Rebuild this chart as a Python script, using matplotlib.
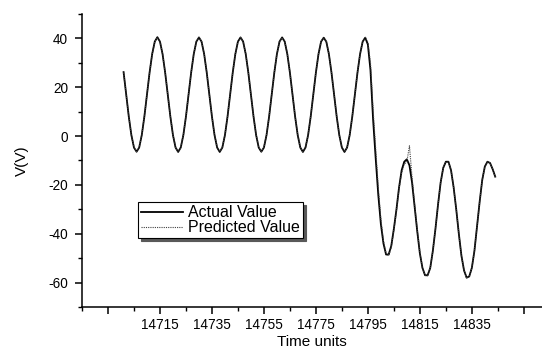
import numpy as np
import matplotlib
matplotlib.use('Agg')
import matplotlib.pyplot as plt
from matplotlib.ticker import FixedLocator

plt.rcParams['font.family'] = ['Liberation Sans', 'DejaVu Sans']
plt.rcParams['axes.unicode_minus'] = False

# Time axis (one sample per time unit)
time = np.arange(14701, 14845)

# Values
actual = [26.2, 17.0, 8.0, 0.4, -4.7, -6.4, -4.7, 0.4, 8.0, 17.0, 26.0, 33.6, 38.7,
          40.5, 38.7, 33.6, 26.0, 17.0, 8.0, 0.4, -4.7, -6.5, -4.7, 0.4, 8.0, 17.0, 26.0, 33.6, 38.7,
          40.4, 38.7, 33.6, 26.0, 17.0, 8.0, 0.4, -4.7, -6.5, -4.7, 0.4, 8.0, 17.0, 26.0, 33.6, 38.7,
          40.4, 38.7, 33.6, 26.0, 17.0, 8.0, 0.4, -4.7, -6.4, -4.7, 0.4, 8.0, 17.0, 26.0, 33.6, 38.7,
          40.4, 38.7, 33.6, 26.0, 17.0, 8.0, 0.4, -4.7, -6.5, -4.7, 0.4, 8.0, 17.0, 26.0, 33.6, 38.7,
          40.3, 38.7, 33.6, 26.0, 17.0, 8.0, 0.4, -4.7, -6.5, -4.7, 0.4, 8.0, 17.0, 26.0, 33.6, 38.7,
          40.3, 37.5, 27.0, 7.0, -9.0, -24.0, -36.0, -44.0, -48.5, -48.5,
          -45.0, -38.0, -30.0, -21.0, -14.0, -10.5, -9.5, -12.0, -19.0, -29.0,
          -39.0, -48.0, -54.0, -57.0, -57.0, -54.0, -47.0, -38.0, -28.0, -19.0,
          -13.0, -10.5, -10.5, -14.0, -21.0, -30.0, -40.0, -49.0, -55.0, -58.0,
          -57.5, -54.0, -47.0, -37.0, -27.0, -18.0, -12.5, -10.5, -11.0, -13.5, -16.6]

predicted = [26.0, 17.2, 8.1, 0.5, -4.6, -6.4, -4.6, 0.5, 8.1, 17.1, 26.0, 33.5, 38.6,
             40.4, 38.8, 33.7, 26.1, 17.0, 8.1, 0.5, -4.6, -6.4, -4.6, 0.5, 8.1, 17.1, 26.1, 33.7, 38.8,
             40.4, 38.8, 33.7, 26.1, 17.1, 8.1, 0.5, -4.6, -6.4, -4.6, 0.5, 8.1, 17.1, 26.1, 33.7, 38.8,
             40.4, 38.8, 33.7, 26.1, 17.1, 8.1, 0.5, -4.6, -6.4, -4.6, 0.5, 8.1, 17.1, 26.1, 33.7, 38.8,
             40.4, 38.8, 33.7, 26.1, 17.1, 8.1, 0.5, -4.6, -6.4, -4.6, 0.5, 8.1, 17.1, 26.1, 33.7, 38.8,
             40.4, 38.8, 33.7, 26.1, 17.1, 8.1, 0.5, -4.6, -6.4, -4.6, 0.5, 8.1, 17.1, 26.1, 33.7, 38.8,
             40.4, 38.5, 30.0, 11.0, -5.0, -21.0, -34.0, -43.0, -48.0, -49.0,
             -45.5, -38.5, -30.5, -21.5, -15.0, -11.5, -10.5, -4.0, -17.0, -28.0,
             -38.5, -47.5, -54.0, -57.0, -57.2, -54.0, -47.0, -38.0, -28.0, -19.0,
             -13.0, -10.7, -10.6, -14.0, -21.0, -30.0, -40.0, -49.0, -55.0, -58.2,
             -57.5, -54.0, -47.0, -37.0, -27.0, -18.0, -12.5, -10.6, -11.0, -13.5, -16.8]

xtick_major = [14695, 14715, 14735, 14755, 14775, 14795, 14815, 14835, 14855]
xtick_labels = ['', '14715', '14735', '14755', '14775', '14795', '14815', '14835', '']
ytick_major = [-60, -40, -20, 0, 20, 40]

fig = plt.figure(figsize=(5.42, 3.49), dpi=100)
ax = fig.add_axes([82/542, 42/349, 460/542, 293/349])

ax.plot(time, actual, color='black', linewidth=1.3, label='Actual Value')
ax.plot(time, predicted, color='0.25', linewidth=0.8, linestyle=(0, (1, 1)), label='Predicted Value')

ax.set_xlim(14685, 14862)
ax.set_ylim(-70, 50)

ax.xaxis.set_major_locator(FixedLocator(xtick_major))
ax.set_xticklabels(xtick_labels)
ax.xaxis.set_minor_locator(FixedLocator(np.arange(14685, 14862, 20)))
ax.yaxis.set_major_locator(FixedLocator(ytick_major))
ax.yaxis.set_minor_locator(FixedLocator([-70, -50, -30, -10, 10, 30, 50]))

for side in ['top', 'right']:
    ax.spines[side].set_visible(False)
for side in ['left', 'bottom']:
    ax.spines[side].set_linewidth(1.1)

ax.tick_params(which='major', direction='out', length=5, width=1.1, labelsize=9.8)
ax.tick_params(axis='x', which='major', pad=3)
ax.tick_params(axis='y', which='major', pad=5)
ax.tick_params(which='minor', direction='out', length=3, width=1.0)

ax.set_xlabel('Time units', fontsize=11, labelpad=2)
ax.set_ylabel('V(V)', fontsize=11, labelpad=14)

leg = ax.legend(loc='upper left', bbox_to_anchor=(138/542, 1 - 202/349),
                bbox_transform=fig.transFigure, fontsize=11.5, frameon=True,
                fancybox=False, edgecolor='black', framealpha=1,
                borderaxespad=0, borderpad=0.2, handlelength=2.6,
                handletextpad=0.35, labelspacing=0.0,
                shadow={'color': '0.35', 'alpha': 1})
leg.get_frame().set_linewidth(0.8)

fig.savefig('out.png', dpi=100)
